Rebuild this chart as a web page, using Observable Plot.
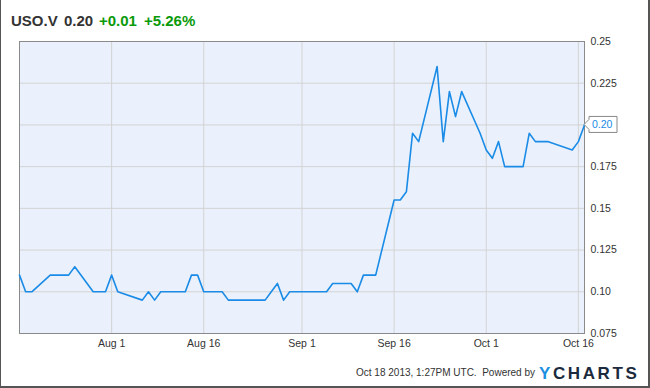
<!DOCTYPE html>
<html>
<head>
<meta charset="utf-8">
<script src="https://cdn.jsdelivr.net/npm/d3@7"></script>
<script src="https://cdn.jsdelivr.net/npm/@observablehq/plot@0.6"></script>
<style>
  html, body { margin: 0; padding: 0; background: #fff; }
  #wrap { position: relative; width: 650px; height: 388px; overflow: hidden; font-family: "Liberation Sans", Arial, sans-serif; }
  #wrap svg { position: absolute; left: 0; top: 0; }
  .t { position: absolute; white-space: nowrap; }
  .title { top: 13px; font-size: 15px; line-height: 15px; font-weight: bold; color: #333; }
  .green { color: #0a9a0a; }
  #footer { top: 367.5px; right: 115px; font-size: 10px; line-height: 10px; color: #333; }
  #logo { top: 365px; left: 539px; font-size: 17px; line-height: 17px; font-weight: 900; letter-spacing: 2.6px; color: #1b2a3c; }
  #logo .y { color: #1b8fe0; }
  #border { position: absolute; left: 0; top: 0; width: 650px; height: 388px; box-sizing: border-box; border-left: 1px solid #555; border-right: 2px solid #555; border-bottom: 2px solid #555; pointer-events: none; }
</style>
</head>
<body>
<div id="wrap">
  <div class="t title" style="left:11px">USO.V</div>
  <div class="t title" style="left:64px">0.20</div>
  <div class="t title green" style="left:99px">+0.01</div>
  <div class="t title green" style="left:144px">+5.26%</div>
  <div id="footer" class="t">Oct 18 2013, 1:27PM UTC.&nbsp; Powered by</div>
  <div id="logo" class="t"><span class="y">Y</span>CHARTS</div>
  <div id="border"></div>
</div>
<script>
const dates = [
  "2013-07-17","2013-07-18","2013-07-19","2013-07-22","2013-07-23","2013-07-24","2013-07-25","2013-07-26",
  "2013-07-29","2013-07-30","2013-07-31","2013-08-01","2013-08-02","2013-08-06","2013-08-07","2013-08-08",
  "2013-08-09","2013-08-12","2013-08-13","2013-08-14","2013-08-15","2013-08-16","2013-08-19","2013-08-20",
  "2013-08-21","2013-08-22","2013-08-23","2013-08-26","2013-08-27","2013-08-28","2013-08-29","2013-08-30",
  "2013-09-03","2013-09-04","2013-09-05","2013-09-06","2013-09-09","2013-09-10","2013-09-11","2013-09-12",
  "2013-09-13","2013-09-16","2013-09-17","2013-09-18","2013-09-19","2013-09-20","2013-09-23","2013-09-24",
  "2013-09-25","2013-09-26","2013-09-27","2013-09-30","2013-10-01","2013-10-02","2013-10-03","2013-10-04",
  "2013-10-07","2013-10-08","2013-10-09","2013-10-10","2013-10-11","2013-10-15","2013-10-16","2013-10-17"
];
const prices = [
  0.11, 0.10, 0.10, 0.11, 0.11, 0.11, 0.11, 0.115,
  0.10, 0.10, 0.10, 0.11, 0.10, 0.095, 0.10, 0.095,
  0.10, 0.10, 0.10, 0.11, 0.11, 0.10, 0.10, 0.095,
  0.095, 0.095, 0.095, 0.095, 0.10, 0.105, 0.095, 0.10,
  0.10, 0.10, 0.10, 0.105, 0.105, 0.10, 0.11, 0.11,
  0.11, 0.155, 0.155, 0.16, 0.195, 0.19, 0.235, 0.19,
  0.22, 0.205, 0.22, 0.195, 0.185, 0.18, 0.19, 0.175,
  0.175, 0.195, 0.19, 0.19, 0.19, 0.185, 0.19, 0.20
];
const xTicks = ["2013-08-01","2013-08-16","2013-09-01","2013-09-16","2013-10-01","2013-10-16"];
const xTickLabels = ["Aug 1","Aug 16","Sep 1","Sep 16","Oct 1","Oct 16"];
const yTicks = [0.075, 0.10, 0.125, 0.15, 0.175, 0.20, 0.225, 0.25];
const yTickLabels = ["0.075","0.10","0.125","0.15","0.175","0.20","0.225","0.25"];
const xDomain = ["2013-07-17","2013-10-17"];
const yDomain = [0.075, 0.25];
const lastLabel = "0.20";

const data = dates.map((d, i) => ({date: new Date(d), value: prices[i]}));
const xTickDates = xTicks.map(d => new Date(d));
const xLabelMap = new Map(xTickDates.map((d, i) => [+d, xTickLabels[i]]));
const last = data[data.length - 1];
const yAxisTicks = yTicks.filter(v => v !== last.value);

const valueBox = (index, scales) => {
  const x = scales.x(last.date), y = scales.y(last.value);
  const g = d3.create("svg:g");
  g.append("path")
    .attr("d", `M${x},${y}L${x+5},${y-5}V${y-8}H${x+33}V${y+8}H${x+5}V${y+5}Z`)
    .attr("fill", "white").attr("stroke", "#888").attr("stroke-width", 1);
  g.append("text")
    .attr("x", x + 8).attr("y", y).attr("dy", "0.35em")
    .attr("text-anchor", "start")
    .attr("fill", "#1a8be6").attr("font-size", 10.5)
    .text(lastLabel);
  return g.node();
};

const chart = Plot.plot({
  width: 650,
  height: 388,
  marginLeft: 19,
  marginRight: 66,
  marginTop: 41,
  marginBottom: 55,
  style: {fontFamily: "'Liberation Sans', Arial, sans-serif", fontSize: "10.5px", color: "#333", background: "transparent"},
  x: {type: "utc", domain: xDomain.map(d => new Date(d))},
  y: {domain: yDomain},
  marks: [
    Plot.frame({fill: "#eaf1fc", stroke: null}),
    Plot.gridX(xTickDates, {stroke: "#d3d3d3", strokeOpacity: 1, strokeWidth: 1}),
    Plot.gridY(yTicks, {stroke: "#d3d3d3", strokeOpacity: 1, strokeWidth: 1}),
    Plot.frame({stroke: "#8a8a8a", strokeWidth: 1}),
    Plot.axisX(xTickDates, {tickSize: 0, tickPadding: 6, tickFormat: d => xLabelMap.get(+d), label: null, fill: "#333"}),
    Plot.axisY(yAxisTicks, {anchor: "right", tickSize: 0, tickPadding: 6, tickFormat: d => yTickLabels[yTicks.indexOf(d)], label: null, fill: "#333"}),
    Plot.line(data, {x: "date", y: "value", stroke: "#1a8be6", strokeWidth: 1.6}),
    valueBox
  ]
});
document.getElementById("wrap").prepend(chart);
</script>
</body>
</html>
